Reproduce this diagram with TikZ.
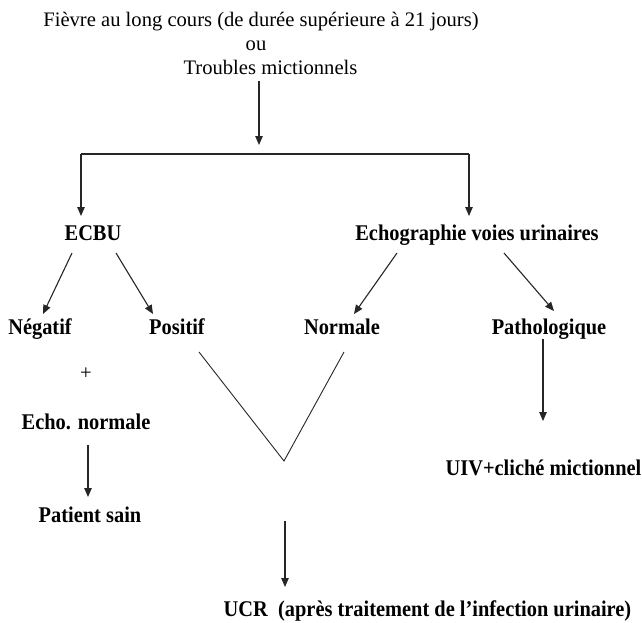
\documentclass[tikz,border=0pt]{standalone}
\usepackage{fontspec}
\setmainfont{Liberation Serif}
\usetikzlibrary{arrows.meta}
\begin{document}
\begin{tikzpicture}[x=1pt,y=-1pt,
  lbl/.style={anchor=base,inner sep=0pt,font=\fontsize{20.6}{24}\selectfont},
  blbl/.style={lbl,font=\fontsize{20.4}{24}\selectfont\bfseries,yscale=1.1,transform shape},
  ln/.style={line width=1.1pt,draw=black!85},
  arr/.style={ln,-{Triangle[length=9pt,width=7.5pt]}}]
\useasboundingbox (0,0) rectangle (642,622);
% texts
\node[lbl] (t1) at (261,26.5) {Fièvre au long cours (de durée supérieure à 21 jours)};
\node[lbl] (ou) at (256,50) {ou};
\node[lbl] (t3) at (270.5,74) {Troubles mictionnels};
\node[blbl] (ecbu) at (93,240) {ECBU};
\node[blbl] (echo) at (477,240) {Echographie voies urinaires};
\node[blbl] (neg) at (40,334) {Négatif};
\node[blbl] (pos) at (177,334) {Positif};
\node[blbl] (norm) at (342,334) {Normale};
\node[blbl] (patho) at (549,334) {Pathologique};
\node[lbl] (plus) at (86,379) {+};
\node[blbl] (echon) at (86,429) {Echo. normale};
\node[blbl] (sain) at (90,522) {Patient sain};
\node[blbl] (uiv) at (543.5,475) {UIV+cliché mictionnel};
\node[blbl] (ucr) at (427.5,616) {UCR\ \ (après traitement de l’infection urinaire)};
% coordinates
\coordinate (a0) at (259,81);
\coordinate (a1) at (259,145);
\coordinate (hl) at (81,154);
\coordinate (hr) at (469,154);
\coordinate (bl) at (81,216);
\coordinate (br) at (469,216);
\coordinate (e1) at (72,253);
\coordinate (e1b) at (43,314);
\coordinate (e2) at (116,253);
\coordinate (e2b) at (153,314);
\coordinate (g1) at (397,253);
\coordinate (g1b) at (354,314);
\coordinate (g2) at (504,253);
\coordinate (g2b) at (554,311);
\coordinate (v1) at (199,352);
\coordinate (v2) at (284,461);
\coordinate (v3) at (344,352);
\coordinate (p1) at (543,339);
\coordinate (p2) at (543,421);
\coordinate (s1) at (88,445);
\coordinate (s2) at (88,497);
\coordinate (u1) at (285,521);
\coordinate (u2) at (285,587);
% connectors
\draw[arr] (a0) -- (a1);
\draw[ln] (hl) -- (hr);
\draw[arr] (hl) -- (bl);
\draw[arr] (hr) -- (br);
\draw[arr] (e1) -- (e1b);
\draw[arr] (e2) -- (e2b);
\draw[arr] (g1) -- (g1b);
\draw[arr] (g2) -- (g2b);
\draw[ln,line width=0.9pt] (v1) -- (v2) -- (v3);
\draw[arr] (p1) -- (p2);
\draw[arr] (s1) -- (s2);
\draw[arr] (u1) -- (u2);
\end{tikzpicture}
\end{document}
